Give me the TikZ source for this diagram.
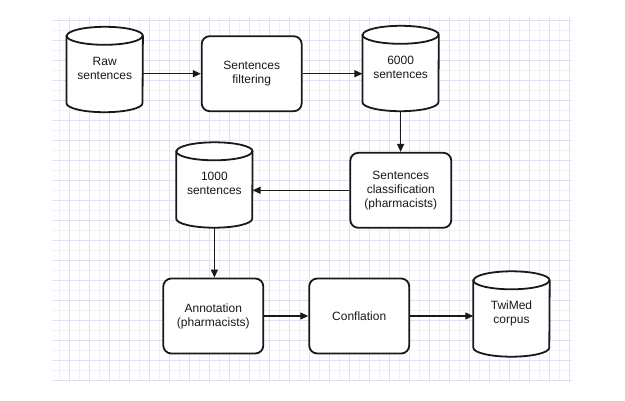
\documentclass[tikz,border=0pt]{standalone}
\usepackage{fontspec}
\setmainfont{Liberation Sans}
\usetikzlibrary{arrows.meta}
\definecolor{gridA}{RGB}{224,223,245}
\definecolor{gridB}{RGB}{240,240,251}
\definecolor{ink}{RGB}{25,25,25}
\pgfdeclarelayer{bg}
\pgfdeclarelayer{shp}
\pgfsetlayers{bg,shp,main}
\newcommand\cyltxt[1]{\raisebox{-5pt}{\begin{tabular}{@{}c@{}}#1\end{tabular}}}
\newcommand\dbdraw[1]{%
  \draw[shpline] ([yshift=-9pt]#1.north west) -- ([yshift=9pt]#1.south west)
    arc[start angle=180,end angle=360,x radius=38pt,y radius=9pt]
    -- ([yshift=-9pt]#1.north east)
    arc[start angle=0,end angle=180,x radius=38pt,y radius=9pt] -- cycle;
  \draw[shpline,fill=none] ([yshift=-9pt]#1.north west)
    arc[start angle=180,end angle=360,x radius=38pt,y radius=9pt];}
\tikzset{
  shpline/.style={draw=ink, line width=1.8pt, fill=white},
  boxnode/.style={shpline, rounded corners=8pt, minimum width=100pt, minimum height=75pt,
    align=center, inner sep=0pt, font=\fontsize{12}{14}\selectfont, text=ink},
  dbnode/.style={minimum width=76pt, minimum height=85pt, inner sep=0pt,
    font=\fontsize{12}{14}\selectfont, text=ink},
  arr/.style={line width=1.3pt, draw=ink, -{Triangle[length=8pt,width=7pt]}},
  gminor/.style={draw=gridB, line width=0.9pt},
  gmajor/.style={draw=gridA, line width=0.9pt}
}
\begin{document}
\begin{tikzpicture}[x=1pt,y=1pt]
\useasboundingbox (0,0) rectangle (625,-400);
\begin{pgfonlayer}{bg}
  \fill[white] (0,0) rectangle (625,-400);
  \foreach \x in {59,79,...,559} \draw[gminor] (\x,-17) -- (\x,-382);
  \foreach \y in {30,50,...,370} \draw[gminor] (52,-\y) -- (572,-\y);
  \foreach \x in {69,89,...,569} \draw[gmajor] (\x,-17) -- (\x,-382);
  \foreach \y in {20,40,...,380} \draw[gmajor] (52,-\y) -- (572,-\y);
\end{pgfonlayer}

\node[dbnode] (raw) at (104.7,-69.5) {\cyltxt{Raw\\sentences}};
\node[boxnode] (filt) at (251.7,-73.7) {Sentences\\filtering};
\node[dbnode] (s6000) at (400.6,-68.5) {\cyltxt{6000\\sentences}};
\node[boxnode, minimum width=101pt] (cls) at (400.8,-190.3) {Sentences\\classification\\(pharmacists)};
\node[dbnode] (s1000) at (214.4,-185) {\cyltxt{1000\\sentences}};
\node[boxnode] (ann) at (213.3,-316) {Annotation\\(pharmacists)};
\node[boxnode] (conf) at (359.2,-316) {Conflation};
\node[dbnode] (twi) at (511.5,-314) {\cyltxt{TwiMed\\corpus}};

\begin{pgfonlayer}{shp}
  \dbdraw{raw}
  \dbdraw{s6000}
  \dbdraw{s1000}
  \dbdraw{twi}
\end{pgfonlayer}

\draw[arr] (raw.east |- filt.west) -- (filt.west);
\draw[arr] (filt.east) -- (s6000.west |- filt.east);
\draw[arr] (s6000.south) -- (s6000.south |- cls.north);
\draw[arr] (cls.west) -- (s1000.east |- cls.west);
\draw[arr] (s1000.south) -- (s1000.south |- ann.north);
\draw[arr] (ann.east) -- (conf.west);
\draw[arr] (conf.east) -- (twi.west |- conf.east);
\end{tikzpicture}
\end{document}
